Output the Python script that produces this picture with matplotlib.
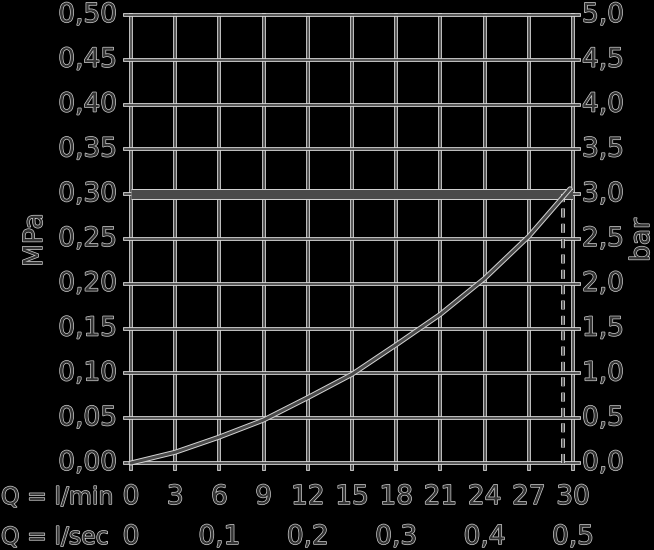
import matplotlib
matplotlib.use("Agg")
import matplotlib.pyplot as plt
import matplotlib.patheffects as pe
import numpy as np

# ---- data ----
flow_lpm = [0, 3, 6, 9, 12, 15, 18, 21, 24, 27, 29.8]
pressure_mpa = [0, 0.012, 0.029, 0.048, 0.073, 0.099, 0.132, 0.166, 0.206, 0.253, 0.306]
max_pressure = 0.30
max_flow = 29.3

x_ticks = [0, 3, 6, 9, 12, 15, 18, 21, 24, 27, 30]
x_tick_labels = [str(v) for v in x_ticks]
lsec_positions = [0, 6, 12, 18, 24, 30]
lsec_labels = ["0", "0,1", "0,2", "0,3", "0,4", "0,5"]
y_ticks = [0, 0.05, 0.10, 0.15, 0.20, 0.25, 0.30, 0.35, 0.40, 0.45, 0.50]
y_tick_labels = ["0,00", "0,05", "0,10", "0,15", "0,20", "0,25", "0,30", "0,35", "0,40", "0,45", "0,50"]
bar_ticks = [0, 0.5, 1.0, 1.5, 2.0, 2.5, 3.0, 3.5, 4.0, 4.5, 5.0]
bar_tick_labels = ["0,0", "0,5", "1,0", "1,5", "2,0", "2,5", "3,0", "3,5", "4,0", "4,5", "5,0"]

LINE = "#4a4a4a"
HALO = "#d6d6d6"
TXT = "#333333"
FS = 19

line_fx = lambda w: [pe.Stroke(linewidth=w + 1.4, foreground=HALO), pe.Normal()]
text_fx = [pe.withStroke(linewidth=1.0, foreground="#d0d0d0")]

fig = plt.figure(figsize=(6.54, 5.5), dpi=100, facecolor="black")
ax = fig.add_axes([131 / 654, 87 / 550, 442 / 654, 448 / 550])
ax.set_facecolor("black")
ax.set_xlim(0, 30)
ax.set_ylim(0, 0.5)
for s in ax.spines.values():
    s.set_visible(False)
ax.set_xticks([])
ax.set_yticks([])

ext_x = 6 / 442 * 30
ext_y = 6 / 448 * 0.5

# grid (with small outward tick extensions)
for xv in x_ticks:
    ax.plot([xv, xv], [-ext_y, 0.5], color=LINE, lw=1.3, clip_on=False,
            path_effects=line_fx(1.3), zorder=2)
for yv in y_ticks:
    ax.plot([-ext_x, 30 + ext_x], [yv, yv], color=LINE, lw=1.3, clip_on=False,
            path_effects=line_fx(1.3), zorder=2)

# thick limit band
ax.plot([0, 30], [max_pressure, max_pressure], color=LINE, lw=6.5,
        solid_capstyle="butt", path_effects=line_fx(6.5), zorder=3)

# dashed max flow
ax.plot([max_flow, max_flow], [0, max_pressure], color=LINE, lw=1.3,
        dashes=(5, 3.5), path_effects=line_fx(1.3), zorder=3)

# curve
ax.plot(flow_lpm, pressure_mpa, color=LINE, lw=2.2, solid_capstyle="round",
        path_effects=line_fx(2.2), zorder=4, clip_on=False)

# left tick labels
for yv, lab in zip(y_ticks, y_tick_labels):
    ax.text(-14 / 442 * 30, yv, lab, ha="right", va="center", fontsize=FS,
            color=TXT, path_effects=text_fx)
# right tick labels
for yv, lab in zip(bar_ticks, bar_tick_labels):
    ax.text(30 + 9 / 442 * 30, yv / 10, lab, ha="left", va="center", fontsize=FS,
            color=TXT, path_effects=text_fx)

# bottom labels
row1 = -34 / 448 * 0.5
row2 = -74 / 448 * 0.5
for xv, lab in zip(x_ticks, x_tick_labels):
    ax.text(xv, row1, lab, ha="center", va="center", fontsize=FS, color=TXT,
            path_effects=text_fx)
for xv, lab in zip(lsec_positions, lsec_labels):
    ax.text(xv, row2, lab, ha="center", va="center", fontsize=FS, color=TXT,
            path_effects=text_fx)

fig.text(1 / 654, 1 - 497 / 550, "Q = l/min", ha="left", va="center", fontsize=17,
         color=TXT, path_effects=text_fx)
fig.text(1 / 654, 1 - 537 / 550, "Q = l/sec", ha="left", va="center", fontsize=17,
         color=TXT, path_effects=text_fx)

# axis titles
fig.text(35 / 654, 1 - 240 / 550, "MPa", rotation=90, ha="center", va="center",
         fontsize=FS, color=TXT, path_effects=text_fx)
fig.text(642 / 654, 1 - 240 / 550, "bar", rotation=90, ha="center", va="center",
         fontsize=FS, color=TXT, path_effects=text_fx)

fig.savefig("out.png", dpi=100, facecolor="black")
